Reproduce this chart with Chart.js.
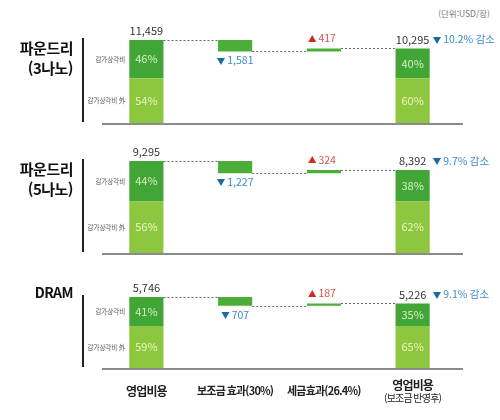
<!DOCTYPE html>
<html lang="ko">
<head>
<meta charset="UTF-8">
<title>영업비용 보조금·세금 효과</title>
<style>
  body { margin: 0; background: #fff; }
  .wrap { position: relative; width: 500px; height: 420px; overflow: hidden; }
  .wrap canvas { position: absolute; left: 0; }
  #unit { position: absolute; right: 10px; top: 7px; font: 8.5px "Noto Sans CJK KR", sans-serif; color: #777; }
</style>
</head>
<body>
<div class="wrap">
  <div id="unit">(단위:USD/장)</div>
  <canvas id="c0" width="500" height="140" style="top:0"></canvas>
  <canvas id="c1" width="500" height="130" style="top:140px"></canvas>
  <canvas id="c2" width="500" height="150" style="top:270px"></canvas>
</div>
<script src="https://cdn.jsdelivr.net/npm/chart.js"></script>
<script>
// data
const categories = ['영업비용', '보조금 효과(30%)', '세금효과(26.4%)', ['영업비용', '(보조금 반영후)']];
const panelNames = [['파운드리', '(3나노)'], ['파운드리', '(5나노)'], ['DRAM']];
const startCost = [11459, 9295, 5746];
const subsidy = [1581, 1227, 707];
const taxEffect = [417, 324, 187];
const finalCost = [10295, 8392, 5226];
const depShareStart = [46, 44, 41];   // 감가상각비 비중 (%)
const depShareFinal = [40, 38, 35];
const changePct = [10.2, 9.7, 9.1];
const segmentNames = ['감가상각비', '감가상각비 外'];

const FONT = '"Noto Sans CJK KR", "Noto Sans", sans-serif';
const DARK = '#42a636', LIGHT = '#8dc63f', MID = '#4cae38';
const BLUE_T = '#1b6aa5', BLUE = '#3b8ccb', RED_T = '#d42a24', RED = '#d9534a';

// canvas layout: padding top / bottom per panel
const padTop = [40, 21, 27];
const padBottom = [17, 17, 52];

const fmt = v => v.toLocaleString('en-US');

function arrowText(ctx, tri, txt, x, y, triColor, txtColor, align) {
  ctx.textBaseline = 'middle';
  ctx.textAlign = 'left';
  ctx.font = `8.5px ${FONT}`;
  const tw = ctx.measureText(tri).width;
  ctx.font = `10.5px ${FONT}`;
  const xw = ctx.measureText(txt).width;
  const gap = 2;
  const left = align === 'left' ? x : x - (tw + gap + xw) / 2;
  ctx.font = `8.5px ${FONT}`;
  ctx.fillStyle = triColor;
  ctx.fillText(tri, left, y);
  ctx.font = `10.5px ${FONT}`;
  ctx.fillStyle = txtColor;
  ctx.fillText(txt, left + tw + gap, y);
}

function makePlugin(p) {
  return {
    id: 'waterfall' + p,
    afterDatasetsDraw(chart) {
      const ctx = chart.ctx, area = chart.chartArea, yS = chart.scales.y;
      const other = chart.getDatasetMeta(0).data;
      const dep = chart.getDatasetMeta(1).data;
      const chg = chart.getDatasetMeta(2).data;
      const bw = other[0].width;
      ctx.save();

      // baseline
      ctx.strokeStyle = '#8a8a8a';
      ctx.lineWidth = 2;
      ctx.beginPath();
      ctx.moveTo(area.left, area.bottom + 1);
      ctx.lineTo(area.right + 6, area.bottom + 1);
      ctx.stroke();

      // dashed connectors
      ctx.strokeStyle = '#666';
      ctx.lineWidth = 1;
      ctx.setLineDash([2, 2]);
      const conn = [
        [dep[0], chg[1], startCost[p]],
        [chg[1], chg[2], startCost[p] - subsidy[p]],
        [chg[2], dep[3], finalCost[p]]
      ];
      conn.forEach(([a, b, v]) => {
        const yy = Math.round(yS.getPixelForValue(v)) + 0.5;
        ctx.beginPath();
        ctx.moveTo(a.x + bw / 2, yy);
        ctx.lineTo(b.x - bw / 2, yy);
        ctx.stroke();
      });
      ctx.setLineDash([]);

      // percentages inside bars
      ctx.textAlign = 'center';
      ctx.textBaseline = 'middle';
      ctx.font = `11px ${FONT}`;
      [[0, depShareStart[p]], [3, depShareFinal[p]]].forEach(([i, s]) => {
        ctx.fillStyle = '#d8f1c4';
        ctx.fillText(s + '%', dep[i].x, (dep[i].y + dep[i].base) / 2);
        ctx.fillStyle = '#eef6c4';
        ctx.fillText((100 - s) + '%', other[i].x, (other[i].y + other[i].base) / 2);
      });

      // value labels
      ctx.fillStyle = '#333';
      ctx.font = `11px ${FONT}`;
      ctx.fillText(fmt(startCost[p]), dep[0].x, dep[0].y - 9);
      ctx.fillText(fmt(finalCost[p]), dep[3].x, dep[3].y - 9);
      arrowText(ctx, '▼', changePct[p] + '% 감소', dep[3].x + bw / 2 + 3, dep[3].y - 9, BLUE_T, BLUE, 'left');
      arrowText(ctx, '▼', fmt(subsidy[p]), chg[1].x, chg[1].base + 9, BLUE_T, BLUE, 'center');
      arrowText(ctx, '▲', fmt(taxEffect[p]), chg[2].x - 2, Math.min(chg[2].y, chg[2].base) - 10, RED_T, RED, 'center');

      // segment names left of first bar
      ctx.fillStyle = '#555';
      ctx.font = `6.5px ${FONT}`;
      ctx.textAlign = 'right';
      ctx.fillText(segmentNames[0], other[0].x - bw / 2 - 4, (dep[0].y + dep[0].base) / 2);
      ctx.fillText(segmentNames[1], other[0].x - bw / 2 - 4, (other[0].y + other[0].base) / 2);

      // panel title and vertical rule
      ctx.strokeStyle = '#222';
      ctx.lineWidth = 2;
      ctx.beginPath();
      ctx.moveTo(83, area.top - 2);
      ctx.lineTo(83, area.bottom - 1);
      ctx.stroke();
      ctx.fillStyle = '#111';
      ctx.font = `bold 15px ${FONT}`;
      ctx.textAlign = 'right';
      ctx.letterSpacing = '-0.5px';
      const names = panelNames[p];
      if (names.length === 1) {
        ctx.font = `bold 14px ${FONT}`;
        ctx.fillText(names[0], 73, area.top - 4);
      } else {
        ctx.fillText(names[0], 73, area.top + 8);
        ctx.fillText(names[1], 73, area.top + 28);
      }

      // category labels under last panel
      if (p === panelNames.length - 1) {
        const xS = chart.scales.x;
        ctx.textAlign = 'center';
        ctx.fillStyle = '#222';
        ctx.letterSpacing = '-0.8px';
        categories.forEach((c, i) => {
          const cx = xS.getPixelForValue(i);
          if (Array.isArray(c)) {
            ctx.font = `bold 12px ${FONT}`;
            ctx.fillText(c[0], cx, area.bottom + 17);
            ctx.font = `10px ${FONT}`;
            ctx.fillText(c[1], cx, area.bottom + 30);
          } else {
            ctx.font = `bold ${i === 0 ? 12 : 11}px ${FONT}`;
            ctx.fillText(c, cx, area.bottom + 23);
          }
        });
      }
      ctx.letterSpacing = '0px';
      ctx.restore();
    }
  };
}

panelNames.forEach((name, p) => {
  const s = startCost[p], f = finalCost[p];
  const sSplit = s * (100 - depShareStart[p]) / 100;
  const fSplit = f * (100 - depShareFinal[p]) / 100;
  const low = s - subsidy[p];
  const common = { grouped: false, barPercentage: 0.385, categoryPercentage: 1, borderWidth: 0 };
  new Chart(document.getElementById('c' + p), {
    type: 'bar',
    data: {
      labels: categories.map(c => Array.isArray(c) ? c.join(' ') : c),
      datasets: [
        Object.assign({ label: segmentNames[1], data: [[0, sSplit], null, null, [0, fSplit]], backgroundColor: LIGHT }, common),
        Object.assign({ label: segmentNames[0], data: [[sSplit, s], null, null, [fSplit, f]], backgroundColor: DARK }, common),
        Object.assign({ label: '효과', data: [null, [low, s], [low, low + taxEffect[p]], null], backgroundColor: MID }, common)
      ]
    },
    options: {
      responsive: false,
      animation: false,
      layout: { padding: { left: 102, right: 43, top: padTop[p], bottom: padBottom[p] } },
      plugins: { legend: { display: false }, tooltip: { enabled: false } },
      scales: {
        x: { display: false },
        y: { display: false, min: 0, max: s }
      }
    },
    plugins: [makePlugin(p)]
  });
});
</script>
</body>
</html>
